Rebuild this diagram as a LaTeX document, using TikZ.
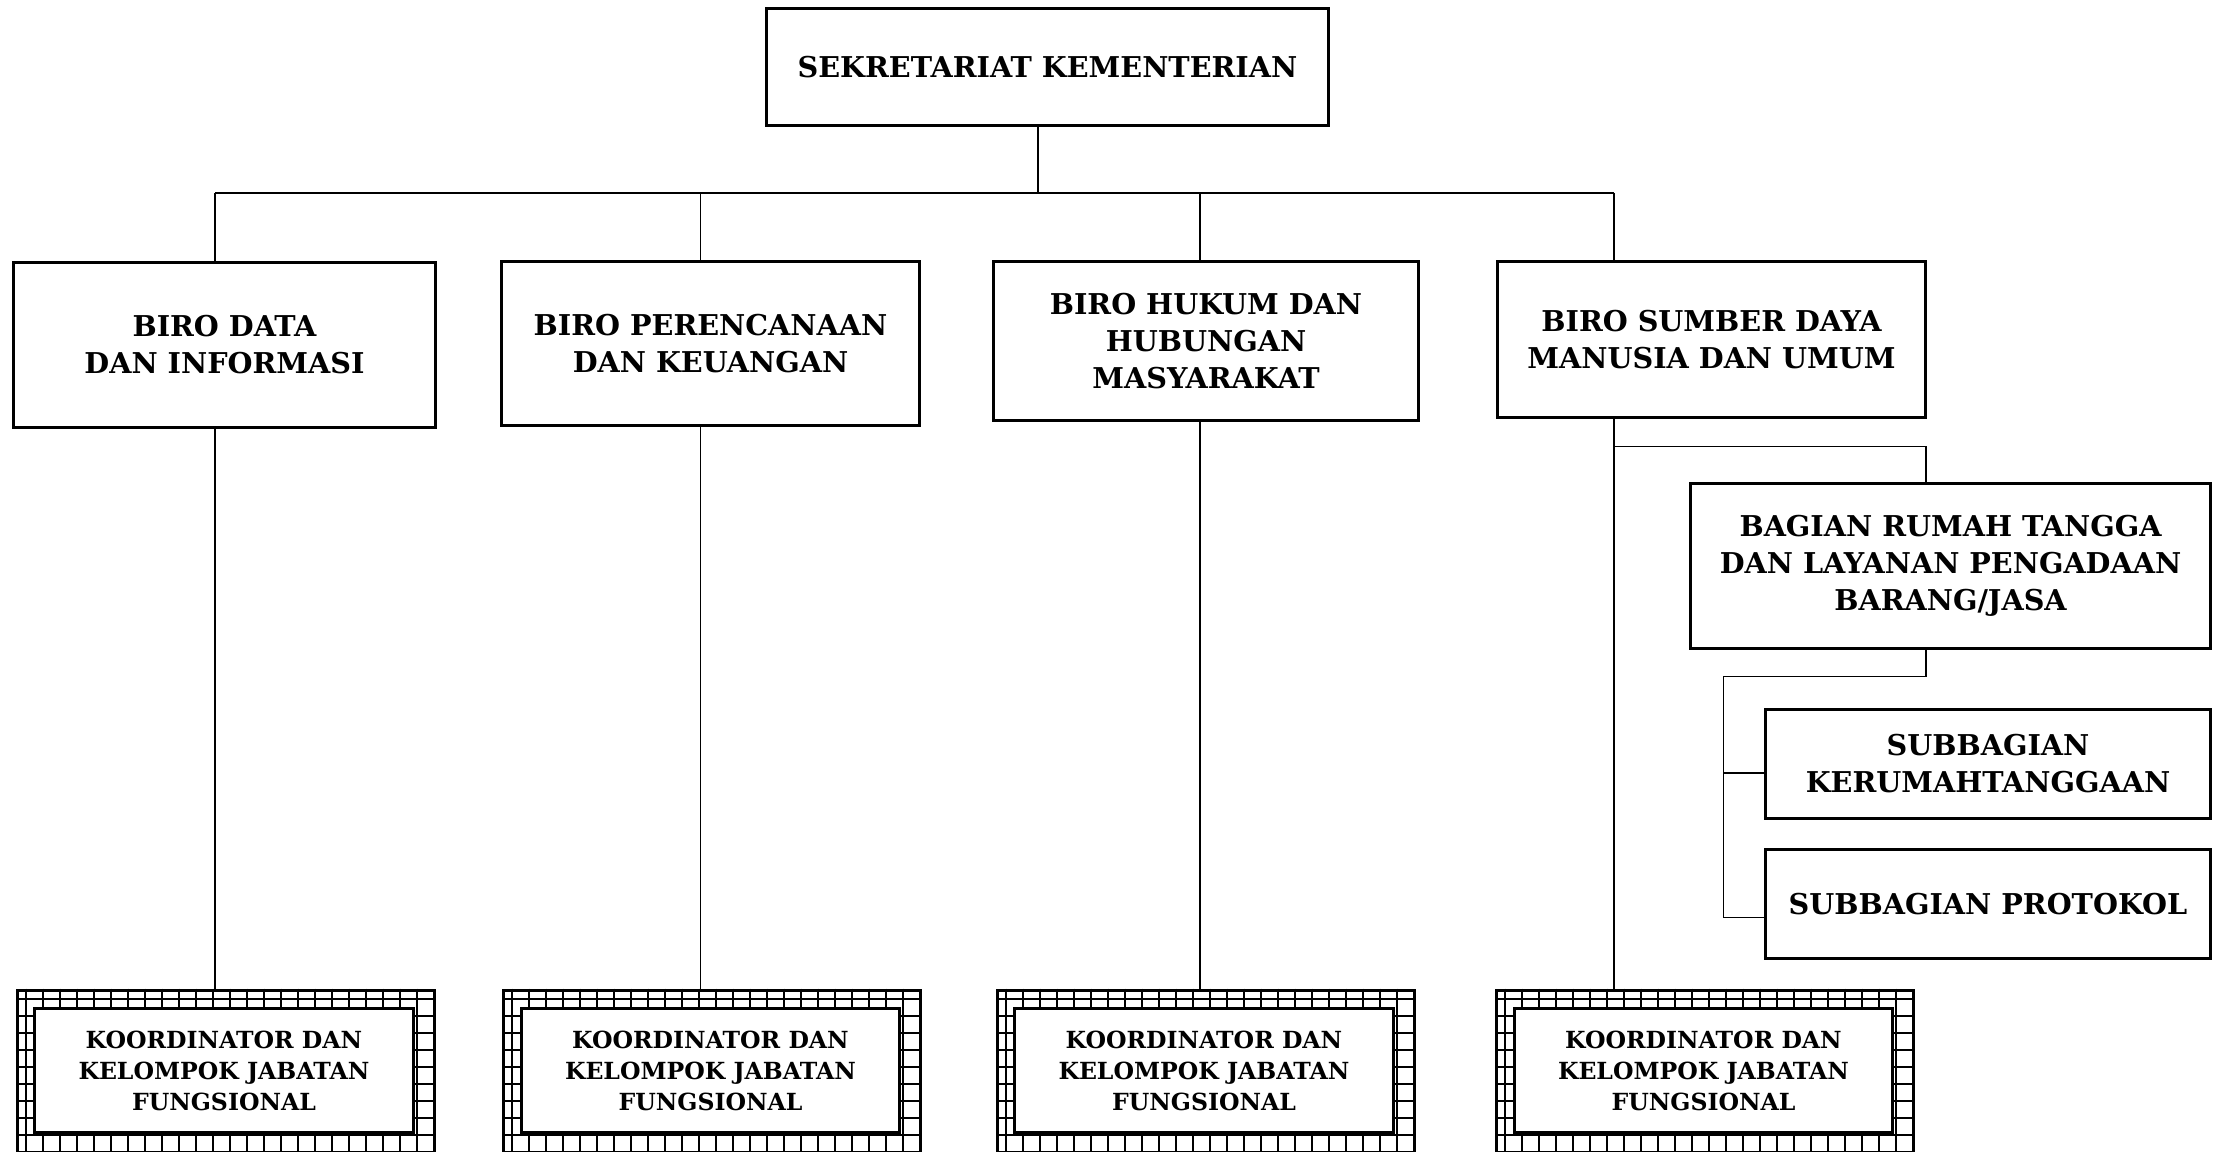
\documentclass[tikz,border=0pt]{standalone}
\usepackage{fontspec}
\setmainfont{DejaVu Serif}
\begin{document}
\begin{tikzpicture}[x=0.01cm,y=-0.01cm,
  unit/.style={draw, line width=0.85pt, fill=white, align=center, inner sep=0pt,
    font=\fontsize{8.15}{10.5}\selectfont\bfseries},
  kbox/.style={draw, line width=0.85pt, fill=white, align=center, inner sep=0pt,
    minimum width=3.78cm, minimum height=1.23cm,
    font=\fontsize{6.7}{8.8}\selectfont\bfseries},
  hatchframe/.style={draw, line width=0.85pt, inner sep=0pt, anchor=north west,
    minimum width=4.17cm, minimum height=1.8cm},
  gridline/.style={line width=0.55pt},
  conn/.style={line width=0.35pt}]
\useasboundingbox (0,0) rectangle (2224,1152);

% top
\node[unit, minimum width=5.61cm, minimum height=1.165cm] (sk) at (1047.5,67) {SEKRETARIAT KEMENTERIAN};

% bureaus
\node[unit, minimum width=4.21cm, minimum height=1.64cm] (b1) at (224.5,345) {BIRO DATA\\DAN INFORMASI};
\node[unit, minimum width=4.17cm, minimum height=1.63cm] (b2) at (710.5,343.5) {BIRO PERENCANAAN\\DAN KEUANGAN};
\node[unit, minimum width=4.24cm, minimum height=1.58cm] (b3) at (1206,341) {BIRO HUKUM DAN\\HUBUNGAN\\MASYARAKAT};
\node[unit, minimum width=4.27cm, minimum height=1.55cm] (b4) at (1711.5,339.5) {BIRO SUMBER DAYA\\MANUSIA DAN UMUM};

% bagian
\node[unit, minimum width=5.19cm, minimum height=1.64cm] (bag) at (1950.5,566) {BAGIAN RUMAH TANGGA\\DAN LAYANAN PENGADAAN\\BARANG/JASA};
\node[unit, minimum width=4.44cm, minimum height=1.09cm] (s1) at (1988,763.8) {SUBBAGIAN\\KERUMAHTANGGAAN};
\node[unit, minimum width=4.44cm, minimum height=1.09cm] (s2) at (1988,904) {SUBBAGIAN PROTOKOL};

% hatched boxes
\foreach \xl/\nm in {16/h1, 502/h2, 996/h3, 1495/h4} {
  \begin{scope}
    \clip (\xl,988.6) rectangle ++(417,180);
    \foreach \i in {0,...,24} \draw[gridline] (\xl+10+17*\i,988.6) -- ++(0,180);
    \foreach \j in {0,...,10} \draw[gridline] (\xl,988.6+10+17*\j) -- ++(417,0);
  \end{scope}
  \node[hatchframe] (\nm) at (\xl,988.6) {};
}
\node[kbox] (k1) at (224,1070.5) {KOORDINATOR DAN\\KELOMPOK JABATAN\\FUNGSIONAL};
\node[kbox] (k2) at (710.5,1070.5) {KOORDINATOR DAN\\KELOMPOK JABATAN\\FUNGSIONAL};
\node[kbox] (k3) at (1204,1070.5) {KOORDINATOR DAN\\KELOMPOK JABATAN\\FUNGSIONAL};
\node[kbox] (k4) at (1703.5,1070.5) {KOORDINATOR DAN\\KELOMPOK JABATAN\\FUNGSIONAL};

% connectors
\coordinate (top) at (1038,193);
\coordinate (d1) at (215,193);
\coordinate (d2) at (700.7,193);
\coordinate (d3) at (1200,193);
\coordinate (d4) at (1614,193);
\draw[conn] (sk.south -| top) -- (top);
\draw[conn] (d1) -- (d4);
\foreach \d/\b/\h in {d1/b1/h1, d2/b2/h2, d3/b3/h3, d4/b4/h4} {
  \draw[conn] (\d) -- (\d |- \b.north);
  \draw[conn] (\d |- \b.south) -- (\d |- \h.north);
}
\coordinate (br) at (1926,446.8);
\draw[conn] (br -| d4) -- (br) -- (br |- bag.north);
\coordinate (bb) at (1926,676.6);
\coordinate (bl) at (1723.4,676.6);
\coordinate (j1) at (1723.4,773);
\coordinate (j2) at (1723.4,917.7);
\draw[conn] (bb |- bag.south) -- (bb) -- (bl) -- (j2) -- (j2 -| s2.west);
\draw[conn] (j1) -- (j1 -| s1.west);
\end{tikzpicture}
\end{document}
